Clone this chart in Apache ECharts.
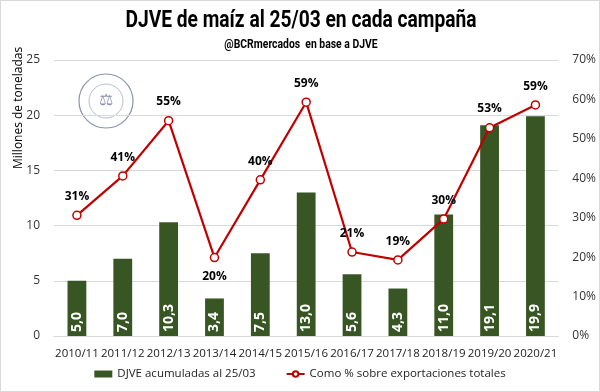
<!DOCTYPE html>
<html><head><meta charset="utf-8">
<script src="https://cdn.jsdelivr.net/npm/echarts@6/dist/echarts.min.js"></script>
<style>html,body{margin:0;padding:0;background:#fff}#c{width:598px;height:390px;border:1px solid #d9d9d9}</style>
</head><body><div id="c"></div>
<script>
const categories = ['2010/11','2011/12','2012/13','2013/14','2014/15','2015/16','2016/17','2017/18','2018/19','2019/20','2020/21'];
const djve = [5.0, 7.0, 10.3, 3.4, 7.5, 13.0, 5.6, 4.3, 11.0, 19.1, 19.9];
const pctExport = [30.6, 40.6, 54.6, 19.9, 39.6, 59.3, 21.3, 19.3, 29.7, 52.8, 58.6];
const leftTicks = [0,5,10,15,20,25];
const rightTicks = [0,10,20,30,40,50,60,70];
const labelBelow = [3];

const chart = echarts.init(document.getElementById('c'));
const head = '"Roboto", "Liberation Sans", sans-serif';
const body = '"Open Sans", "Noto Sans", sans-serif';
chart.setOption({
  animation: false,
  grid: {left: 53, right: 39, top: 59, bottom: 55, containLabel: false},
  legend: {
    bottom: 6, left: 'center', itemGap: 30, itemWidth: 18, itemHeight: 7,
    textStyle: {fontFamily: body, fontSize: 11.5, color: '#222'},
    data: [{name: 'DJVE acumuladas al 25/03', icon: 'rect'},
           {name: 'Como % sobre exportaciones totales'}]
  },
  xAxis: {
    type: 'category', data: categories,
    axisLine: {lineStyle: {color: '#d9d9d9'}}, axisTick: {show: false},
    axisLabel: {fontFamily: body, fontSize: 11.5, color: '#222', margin: 12, interval: 0}
  },
  yAxis: [
    {type: 'value', min: leftTicks[0], max: leftTicks[leftTicks.length-1], interval: 5,
     axisLabel: {fontFamily: body, fontSize: 12, color: '#333', margin: 14},
     splitLine: {lineStyle: {color: '#d9d9d9'}}, axisLine: {show: false}, axisTick: {show: false}},
    {type: 'value', min: rightTicks[0], max: rightTicks[rightTicks.length-1], interval: 10,
     axisLabel: {fontFamily: body, fontSize: 12, color: '#333', formatter: '{value}%', margin: 14},
     splitLine: {show: false}, axisLine: {show: false}, axisTick: {show: false}}
  ],
  graphic: [
    {type: 'text', x: 300, y: 8, scaleX: 0.8, scaleY: 1,
     style: {text: 'DJVE de maíz al 25/03 en cada campaña', fontFamily: head, fontWeight: 'bold', fontSize: 24,
       fill: '#000', align: 'center', verticalAlign: 'top'}},
    {type: 'text', x: 300, y: 37, scaleX: 0.8, scaleY: 1,
     style: {text: '@BCRmercados  en base a DJVE', fontFamily: head, fontWeight: 'bold', fontSize: 13,
       fill: '#000', align: 'center', verticalAlign: 'top'}},
    {type: 'text', x: 12, y: 168, rotation: Math.PI/2,
     style: {text: 'Millones de toneladas', fontFamily: body, fontSize: 12, fill: '#000'}},
    {type: 'group', x: 105, y: 100, children: [
      {type: 'circle', shape: {cx: 0, cy: 0, r: 27}, style: {fill: 'none', stroke: '#8a93b0', lineWidth: 1.2}},
      {type: 'circle', shape: {cx: 0, cy: 0, r: 17}, style: {fill: 'none', stroke: '#a5acc4', lineWidth: 0.8}},
      {type: 'text', x: 0, y: 0, style: {text: '⚖', fontSize: 16, fill: '#8a93b0', align: 'center', verticalAlign: 'middle'}}
    ]}
  ],
  series: [
    {name: 'DJVE acumuladas al 25/03', type: 'bar', data: djve, yAxisIndex: 0, barWidth: '41%',
     itemStyle: {color: '#375623'},
     label: {show: true, position: 'insideBottom', rotate: 90, align: 'left', verticalAlign: 'middle',
       distance: 4, color: '#fff', fontFamily: body, fontWeight: 'bold', fontSize: 14,
       formatter: p => p.value.toFixed(1).replace('.', ',')}},
    {name: 'Como % sobre exportaciones totales', type: 'line', yAxisIndex: 1,
     data: pctExport.map((v, i) => labelBelow.includes(i) ? {value: v, label: {position: 'bottom'}} : v),
     symbol: 'circle', symbolSize: 8, lineStyle: {color: '#C00000', width: 2.2},
     itemStyle: {color: '#fff', borderColor: '#C00000', borderWidth: 1.5},
     label: {show: true, position: 'top', distance: 8, color: '#000', fontFamily: body, fontWeight: 'bold', fontSize: 12,
       formatter: p => Math.round(p.value) + '%'}}
  ]
});
</script></body></html>
